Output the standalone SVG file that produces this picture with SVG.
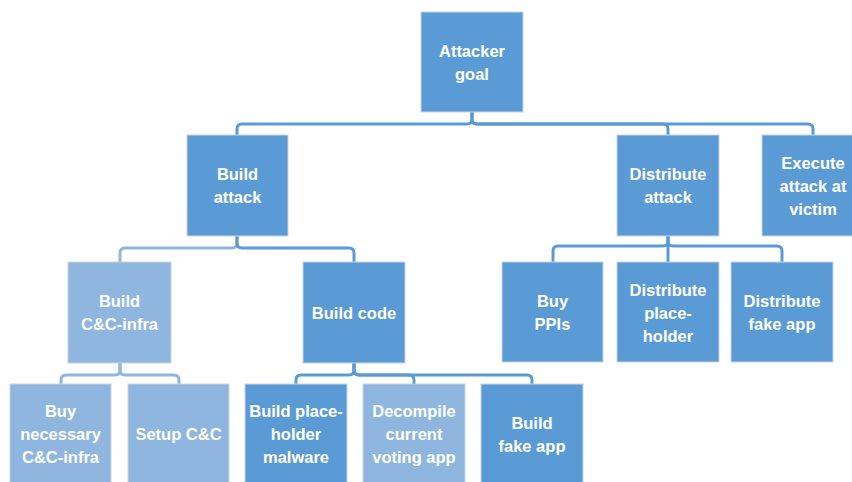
<svg xmlns="http://www.w3.org/2000/svg" width="852" height="482" viewBox="0 0 852 482">
<style>
.n{fill:#5B9BD5;stroke:#C9D4E0;stroke-width:1}
.l{fill:#8EB6DF;stroke:#C9D4E0;stroke-width:1}
text{font-family:"Liberation Sans",Arial,sans-serif;font-weight:bold;font-size:16.5px;fill:#FFFFFF;text-anchor:middle}
.c{fill:none;stroke:#5B9BD5;stroke-width:3}
.cl{fill:none;stroke:#8EB6DF;stroke-width:3}
</style>
<rect width="852" height="482" fill="#FFFFFF"/>
<g id="connectors">
<path class="c" d="M472,112 V119 Q472,124 467,124 H242 Q237,124 237,129 V135"/>
<path class="c" d="M472,112 V119 Q472,124 477,124 H663 Q668,124 668,129 V135"/>
<path class="c" d="M472,112 V119 Q472,124 477,124 H808 Q813,124 813,129 V135"/>
<path class="cl" d="M237,236 V243 Q237,248 232,248 H125 Q120,248 120,253 V262"/>
<path class="c" d="M237,236 V243 Q237,248 242,248 H349 Q354,248 354,253 V262"/>
<path class="cl" d="M120,363 V370 Q120,375 115,375 H66 Q61,375 61,380 V384"/>
<path class="cl" d="M120,363 V370 Q120,375 125,375 H174 Q179,375 179,380 V384"/>
<path class="c" d="M354,363 V370 Q354,375 349,375 H301 Q296,375 296,380 V384"/>
<path class="c" d="M354,363 V370 Q354,375 359,375 H409 Q414,375 414,380 V384"/>
<path class="c" d="M354,363 V370 Q354,375 359,375 H527 Q532,375 532,380 V384"/>
<path class="c" d="M668,236 V241 Q668,246 663,246 H558 Q553,246 553,251 V262"/>
<path class="c" d="M668,236 V262"/>
<path class="c" d="M668,236 V241 Q668,246 673,246 H777 Q782,246 782,251 V262"/>
</g>
<g id="attacker-goal"><rect class="n" x="421" y="12" width="102" height="100"/><text x="472" y="57">Attacker</text><text x="472" y="80">goal</text></g>
<g id="build-attack"><rect class="n" x="187" y="135" width="101" height="101"/><text x="237.5" y="180">Build</text><text x="237.5" y="203">attack</text></g>
<g id="distribute-attack"><rect class="n" x="617" y="135" width="102" height="101"/><text x="668" y="180">Distribute</text><text x="668" y="203">attack</text></g>
<g id="execute-attack"><rect class="n" x="762" y="135" width="102" height="101"/><text x="813" y="169">Execute</text><text x="813" y="192">attack at</text><text x="813" y="215">victim</text></g>
<g id="build-cc-infra"><rect class="l" x="68" y="262" width="103" height="101"/><text x="119.5" y="307">Build</text><text x="119.5" y="330">C&amp;C-infra</text></g>
<g id="build-code"><rect class="n" x="303" y="262" width="102" height="101"/><text x="354" y="319">Build code</text></g>
<g id="buy-ppis"><rect class="n" x="502" y="262" width="101" height="100"/><text x="552.5" y="307">Buy</text><text x="552.5" y="330">PPIs</text></g>
<g id="distribute-placeholder"><rect class="n" x="617" y="262" width="102" height="100"/><text x="668" y="296">Distribute</text><text x="668" y="319">place-</text><text x="668" y="342">holder</text></g>
<g id="distribute-fake-app"><rect class="n" x="731" y="262" width="102" height="100"/><text x="782" y="307">Distribute</text><text x="782" y="330">fake app</text></g>
<g id="buy-necessary"><rect class="l" x="10" y="384" width="101" height="100"/><text x="60.5" y="417">Buy</text><text x="60.5" y="440">necessary</text><text x="60.5" y="463">C&amp;C-infra</text></g>
<g id="setup-cc"><rect class="l" x="128" y="384" width="101" height="100"/><text x="178.5" y="440">Setup C&amp;C</text></g>
<g id="build-placeholder-malware"><rect class="n" x="245" y="384" width="102" height="100"/><text x="296" y="417">Build place-</text><text x="296" y="440">holder</text><text x="296" y="463">malware</text></g>
<g id="decompile"><rect class="l" x="363" y="384" width="102" height="100"/><text x="414" y="417">Decompile</text><text x="414" y="440">current</text><text x="414" y="463">voting app</text></g>
<g id="build-fake-app"><rect class="n" x="481" y="384" width="102" height="100"/><text x="532" y="429">Build</text><text x="532" y="452">fake app</text></g>
</svg>
